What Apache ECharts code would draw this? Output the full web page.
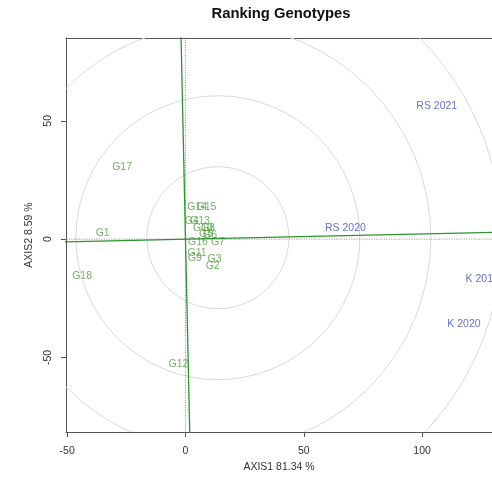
<!DOCTYPE html>
<html><head><meta charset="utf-8">
<script src="https://cdn.jsdelivr.net/npm/echarts@6/dist/echarts.min.js"></script>
<style>html,body{margin:0;padding:0;background:#fff}#c{width:492px;height:485px}</style>
</head><body><div id="c"></div>
<script>
// Genotype scores (AXIS1, AXIS2)
var genotypes = ['G1','G2','G3','G4','G5','G6','G7','G8','G9','G10','G11','G12','G13','G14','G15','G16','G17','G18'];
var genoX = [-35.0, 11.5, 12.3, 2.7, 8.7, 10.4, 13.7, 9.5, 4.0, 7.4, 4.9, -3.0, 6.1, 4.9, 8.9, 5.3, -26.8, -43.7];
var genoY = [2.6, -11.2, -8.4, 7.5, 2.3, 1.5, -1.2, 4.7, -7.9, 4.7, -5.8, -53.0, 7.5, 13.6, 13.6, -1.2, 30.6, -15.7];
// Environment scores
var environments = ['RS 2021', 'RS 2020', 'K 2019', 'K 2020'];
var envX = [106.2, 67.6, 125.4, 117.7];
var envY = [56.1, 4.6, -17.1, -36.1];
// Concentric circles (center on the average-environment axis, radii)
var circleCenter = [13.7, 0.6];
var circleRadii = [30, 60, 90, 120];
// Axis ticks
var xTicks = [-50, 0, 50, 100];
var yTicks = [-50, 0, 50];

var slope = 0.022;

var chart = echarts.init(document.getElementById('c'), null, {renderer:'canvas'});
var font = 'Liberation Sans, Arial, sans-serif';
var gColor = '#4f9b3e', envColor = '#3c4fc0', lineColor = '#2f922f', frame = '#555';

chart.setOption({
  animation:false,
  title:{text:'Ranking Genotypes', left:281, top:6, padding:0, textAlign:'center',
    textStyle:{fontFamily:font, fontSize:14.8, fontWeight:'bold', color:'#111'}},
  grid:{left:66, top:38, right:0, bottom:53, show:false},
  xAxis:[{type:'value', min:-50.5, max:129.55, splitLine:{show:false},
    axisLine:{show:true, onZero:false, lineStyle:{color:frame, width:1}},
    axisTick:{show:true, length:5, inside:false, lineStyle:{color:frame}, customValues:xTicks},
    axisLabel:{customValues:xTicks, margin:14, fontFamily:font, fontSize:10.5, color:'#333'},
    name:'AXIS1 81.34 %', nameLocation:'middle', nameGap:30,
    nameTextStyle:{fontFamily:font, fontSize:10.5, color:'#333'}},
   {type:'value', position:'top', min:-50.5, max:129.55, splitLine:{show:false},
    axisLine:{show:true, onZero:false, lineStyle:{color:frame, width:1}},
    axisTick:{show:false}, axisLabel:{show:false}}],
  yAxis:{type:'value', min:-81.5, max:85.0, splitLine:{show:false},
    axisLine:{show:true, onZero:false, lineStyle:{color:frame, width:1}},
    axisTick:{show:true, length:5, inside:false, lineStyle:{color:frame}, customValues:yTicks},
    axisLabel:{customValues:yTicks, rotate:90, margin:12, fontFamily:font, fontSize:10.5, color:'#333'},
    name:'AXIS2 8.59 %', nameLocation:'middle', nameGap:30, nameRotate:90,
    nameTextStyle:{fontFamily:font, fontSize:10.5, color:'#333'}},
  series:[
    {type:'custom', clip:true, silent:true, data:circleRadii.map(function(r){return [r];}),
      renderItem:function(params, api){
        var c = api.coord(circleCenter);
        var r = api.size([api.value(0), 0])[0];
        return {type:'circle', shape:{cx:c[0], cy:c[1], r:r},
          style:{fill:'none', stroke:'#d9d9d9', lineWidth:1}};
      }},
    {type:'line', symbol:'none', silent:true, data:[[0,-100],[0,100]],
      lineStyle:{color:'#888', width:1, type:[1,1.5]}},
    {type:'line', symbol:'none', silent:true, data:[[-100,0],[200,0]],
      lineStyle:{color:'#888', width:1, type:[1,1.5]}},
    {type:'line', symbol:'none', silent:true, data:[[-60,-60*slope],[140,140*slope]],
      lineStyle:{color:lineColor, width:1.3}},
    {type:'line', symbol:'none', silent:true, data:[[100*slope,-100],[-100*slope,100]],
      lineStyle:{color:lineColor, width:1.3}},
    {type:'scatter', symbolSize:1, itemStyle:{color:'rgba(0,0,0,0)'}, silent:true,
      data:genotypes.map(function(n,i){return {name:n, value:[genoX[i], genoY[i]]};}),
      label:{show:true, position:'inside', formatter:'{b}', fontFamily:font, fontSize:10.5, color:gColor}},
    {type:'scatter', symbolSize:1, itemStyle:{color:'rgba(0,0,0,0)'}, silent:true,
      data:environments.map(function(n,i){return {name:n, value:[envX[i], envY[i]]};}),
      label:{show:true, position:'inside', formatter:'{b}', fontFamily:font, fontSize:10.5, color:envColor}}
  ]
});
</script></body></html>
